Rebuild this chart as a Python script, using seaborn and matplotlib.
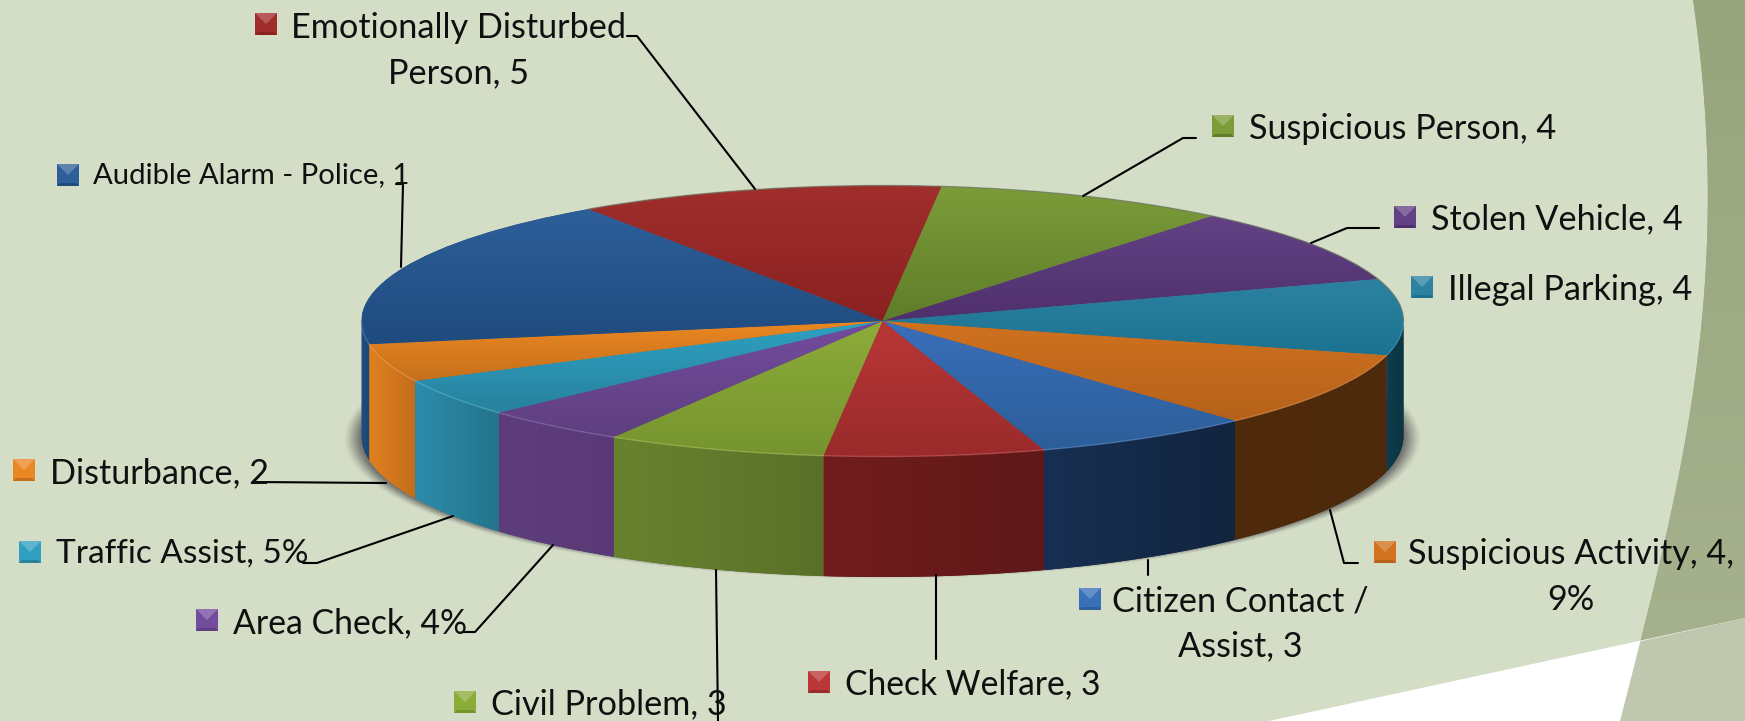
import matplotlib
matplotlib.use("Agg")
import matplotlib.pyplot as plt
from matplotlib.colors import to_rgb
from matplotlib.patches import Polygon
from matplotlib.transforms import Affine2D
import numpy as np
import seaborn as sns

# slices, clockwise from the back-left edge of the red slice
categories = ["Emotionally Disturbed Person", "Suspicious Person", "Stolen Vehicle",
              "Illegal Parking", "Suspicious Activity", "Citizen Contact / Assist",
              "Check Welfare", "Civil Problem", "Area Check", "Traffic Assist",
              "Disturbance", "Audible Alarm - Police"]
values = [5, 4, 4, 4, 4, 3, 3, 3, 2, 2, 2, 8]
labels = ["Emotionally Disturbed\nPerson, 5", "Suspicious Person, 4", "Stolen Vehicle, 4",
          "Illegal Parking, 4", "Suspicious Activity, 4,\n9%", "Citizen Contact /\nAssist, 3",
          "Check Welfare, 3", "Civil Problem, 3", "Area Check, 4%", "Traffic Assist, 5%",
          "Disturbance, 2", "Audible Alarm - Police, 1"]

# gradient ends for the top face (upper end, lower end) and the side wall (left, right)
top_upper = ["#a02e2c", "#7c9c3a", "#624284", "#2c82a0", "#d0721f", "#3a6fba",
             "#bb3636", "#8cac3a", "#744c9e", "#2fa0c2", "#ea8722", "#2e5f9a"]
top_lower = ["#8a2121", "#5f7d29", "#4f306c", "#1c7291", "#b5611a", "#2c5e98",
             "#9a2b2b", "#76942e", "#5e3f7f", "#27829e", "#c6701c", "#1f4b7e"]
side_left = ["#711c1c", "#5a7029", "#50306e", "#0e3d4c", "#4f2a0a", "#172f52",
             "#721d1d", "#68832f", "#5e3d7c", "#2c8cab", "#e0801f", "#1f4d80"]
side_right = ["#5f1818", "#5a7029", "#50306e", "#0c3542", "#4d2a0c", "#12253f",
              "#5f1818", "#5a7029", "#593a76", "#24758c", "#c46d1b", "#1c4675"]

# (x, y) of label, legend chip in image pixels
label_xy = [(459, 51), (1249, 129), (1431, 219), (1448, 290), (1571, 577), (1240, 624),
            (845, 684), (491, 704), (233, 623), (56, 554), (50, 473), (93, 175)]
label_ha = ["center", "left", "left", "left", "center", "center",
            "left", "left", "left", "left", "left", "left"]
label_size = [24.7, 24.7, 24.7, 24.7, 24.7, 24.7, 24.2, 24.7, 24.3, 24.0, 24.7, 21.1]
chip_xy = [(266, 24), (1223, 126), (1405, 217), (1422, 287), (1385, 552), (1090, 599),
           (819, 682), (465, 702), (207, 620), (30, 552), (24, 470), (68, 175)]

leaders = [[(627, 36), (637, 36), (755, 189)],
           [(1196, 138), (1183, 138), (1083, 196)],
           [(1379, 228), (1347, 228), (1311, 243)],
           [(1358, 563), (1344, 563), (1330, 510)],
           [(1148, 575), (1148, 560)],
           [(936, 659), (936, 575)],
           [(718, 721), (716, 570)],
           [(463, 632), (475, 632), (553, 545)],
           [(303, 563), (317, 563), (453, 516)],
           [(254, 482), (386, 483)],
           [(401, 267), (403, 184), (396, 184)]]

W, H = 1745, 721
CX, CY, RX, RY = 882.5, 321.0, 521.0, 135.5
DROP = 115.0 / RY    # side wall depth at the far left and right
FLARE = 141.0 / RY   # lower rim is a bit flatter-wider than the top rim
BG = "#d4ddc6"


def blend(c1, c2, n=128):
    return np.linspace(to_rgb(c1), to_rgb(c2), n)


def lighten(c, amount=0.35):
    rgb = np.array(to_rgb(c))
    return tuple(rgb + (1 - rgb) * amount)


sns.set_theme(style="white")
plt.rcParams["font.family"] = ["Lato", "DejaVu Sans"]

fig = plt.figure(figsize=(W / 100, H / 100), dpi=100, facecolor=BG)
ax = fig.add_axes([0, 0, 1, 1])
pix = Affine2D().scale(1 / W, -1 / H).translate(0, 1) + fig.transFigure

# top face
wedges, _ = ax.pie(values, startangle=124.4, counterclock=False, radius=1,
                   colors=sns.color_palette(top_lower), wedgeprops={"linewidth": 0, "zorder": 3})
ax.set_aspect("auto")
ax.set_xlim((0 - CX) / RX, (W - CX) / RX)
ax.set_ylim((CY - H) / RY, (CY - 0) / RY)
ax.set_axis_off()
xlim, ylim = ax.get_xlim(), ax.get_ylim()

# slide background
ys = np.linspace(0, H, 200)
swoosh_y = [0, 138, 207, 368, 529, 644, 721]
swoosh_x = [1693, 1707, 1707, 1697, 1667, 1640, 1620]
xs = np.polyval(np.polyfit(swoosh_y, swoosh_x, 4), ys)
line_y = lambda x: 721 + (x - 1269) * (618 - 721) / (1745 - 1269)
dark = np.column_stack([np.r_[xs, W, W], np.r_[ys, H, 0]])
dark_patch = Polygon(dark, closed=True, fc="#a0ad85", ec="none", transform=pix, zorder=0)
ax.add_patch(dark_patch)
im = ax.imshow(blend("#97a57d", "#a8b38f")[:, None, :], extent=(xlim[0], xlim[1], ylim[0], ylim[1]),
               aspect="auto", zorder=0.05, interpolation="bilinear")
im.set_clip_path(dark_patch)
white = [(1269, 721), (1745, 618), (1745, 721)]
ax.add_patch(Polygon(white, closed=True, fc="white", ec="none", transform=pix, zorder=0.1))
keep = ys >= line_y(xs)
band = np.column_stack([np.r_[xs[keep], W, W], np.r_[ys[keep], H, line_y(W)]])
ax.add_patch(Polygon(band, closed=True, fc="#bfc8ae", ec="none", transform=pix, zorder=0.2))

# soft shadow under the disc
gx, gy = np.meshgrid(np.linspace(-1.1, 1.1, 500), np.linspace(-2.2, 0.4, 400))
dist = np.hypot(gx / 1.035, (gy + DROP + 0.02) / 1.035)
shadow = np.zeros(gx.shape + (4,))
shadow[..., :3] = 0.33
shadow[..., 3] = np.clip((1.0 - dist) / 0.03, 0, 1) ** 1.2 * 0.75
ax.imshow(shadow, extent=(-1.1, 1.1, -2.2, 0.4), origin="lower", aspect="auto", zorder=1,
          interpolation="bilinear")

for i, w in enumerate(wedges):
    # side wall, only the part that faces the viewer
    t0, t1 = max(w.theta1, -180), min(w.theta2, 0)
    if t1 > t0:
        t = np.radians(np.linspace(t0, t1, 80))
        upper = np.column_stack([np.cos(t), np.sin(t)])
        lower = np.column_stack([np.cos(t), FLARE * np.sin(t) - DROP])
        wall = Polygon(np.vstack([upper, lower[::-1]]), closed=True, fc=side_right[i], ec="none",
                       transform=ax.transData, zorder=2)
        ax.add_patch(wall)
        im = ax.imshow(blend(side_left[i], side_right[i])[None, ...],
                       extent=(upper[:, 0].min(), upper[:, 0].max(), -3, 1), aspect="auto",
                       zorder=2.1, interpolation="bilinear")
        im.set_clip_path(wall)

    # gradient on the top face
    t = np.radians(np.linspace(w.theta1, w.theta2, 80))
    y_hi, y_lo = max(np.sin(t).max(), 0), min(np.sin(t).min(), 0)
    im = ax.imshow(blend(top_upper[i], top_lower[i])[:, None, :],
                   extent=(-1, 1, y_lo, y_hi), aspect="auto", zorder=3.1, interpolation="bilinear")
    im.set_clip_path(w)

    # thin lit rim on the front, dim line on the back
    if t1 > t0:
        t = np.radians(np.linspace(t0, t1, 80))
        ax.plot(np.cos(t), np.sin(t), color=lighten(top_upper[i], 0.2), lw=1.0, alpha=0.6, zorder=3.2)
    t_back0, t_back1 = max(w.theta1, 0), min(w.theta2, 180)
    if t_back1 > t_back0:
        t = np.radians(np.linspace(t_back0, t_back1, 80))
        ax.plot(np.cos(t), np.sin(t), color="#6f7a66", lw=1.0, alpha=0.7, zorder=3.2)

ax.set_xlim(xlim)
ax.set_ylim(ylim)

# leader lines
for pts in leaders:
    px = np.array(pts, dtype=float)
    ax.plot(px[:, 0], px[:, 1], color="black", lw=1.5, transform=pix, zorder=4, clip_on=False)

# labels and bevelled legend chips
for i, text in enumerate(labels):
    ax.text(label_xy[i][0], label_xy[i][1], text, transform=pix, ha=label_ha[i], va="center",
            multialignment="center", fontsize=label_size[i], color="#101010", linespacing=1.5, zorder=5)
    x, y = chip_xy[i]
    r = 11
    base = top_upper[i]
    ax.add_patch(Polygon([(x - r, y - r), (x + r, y - r), (x + r, y + r), (x - r, y + r)],
                         fc=base, ec="none", transform=pix, zorder=5))
    ax.add_patch(Polygon([(x - r, y - r), (x + r, y - r), (x, y)],
                         fc=lighten(base, 0.22), ec="none", transform=pix, zorder=5.1))
    ax.add_patch(Polygon([(x - r, y + r), (x + r, y + r), (x + r - 3, y + r - 3), (x - r + 3, y + r - 3)],
                         fc=top_lower[i], ec="none", transform=pix, zorder=5.1))

fig.savefig("out.png", dpi=100, facecolor=BG)
